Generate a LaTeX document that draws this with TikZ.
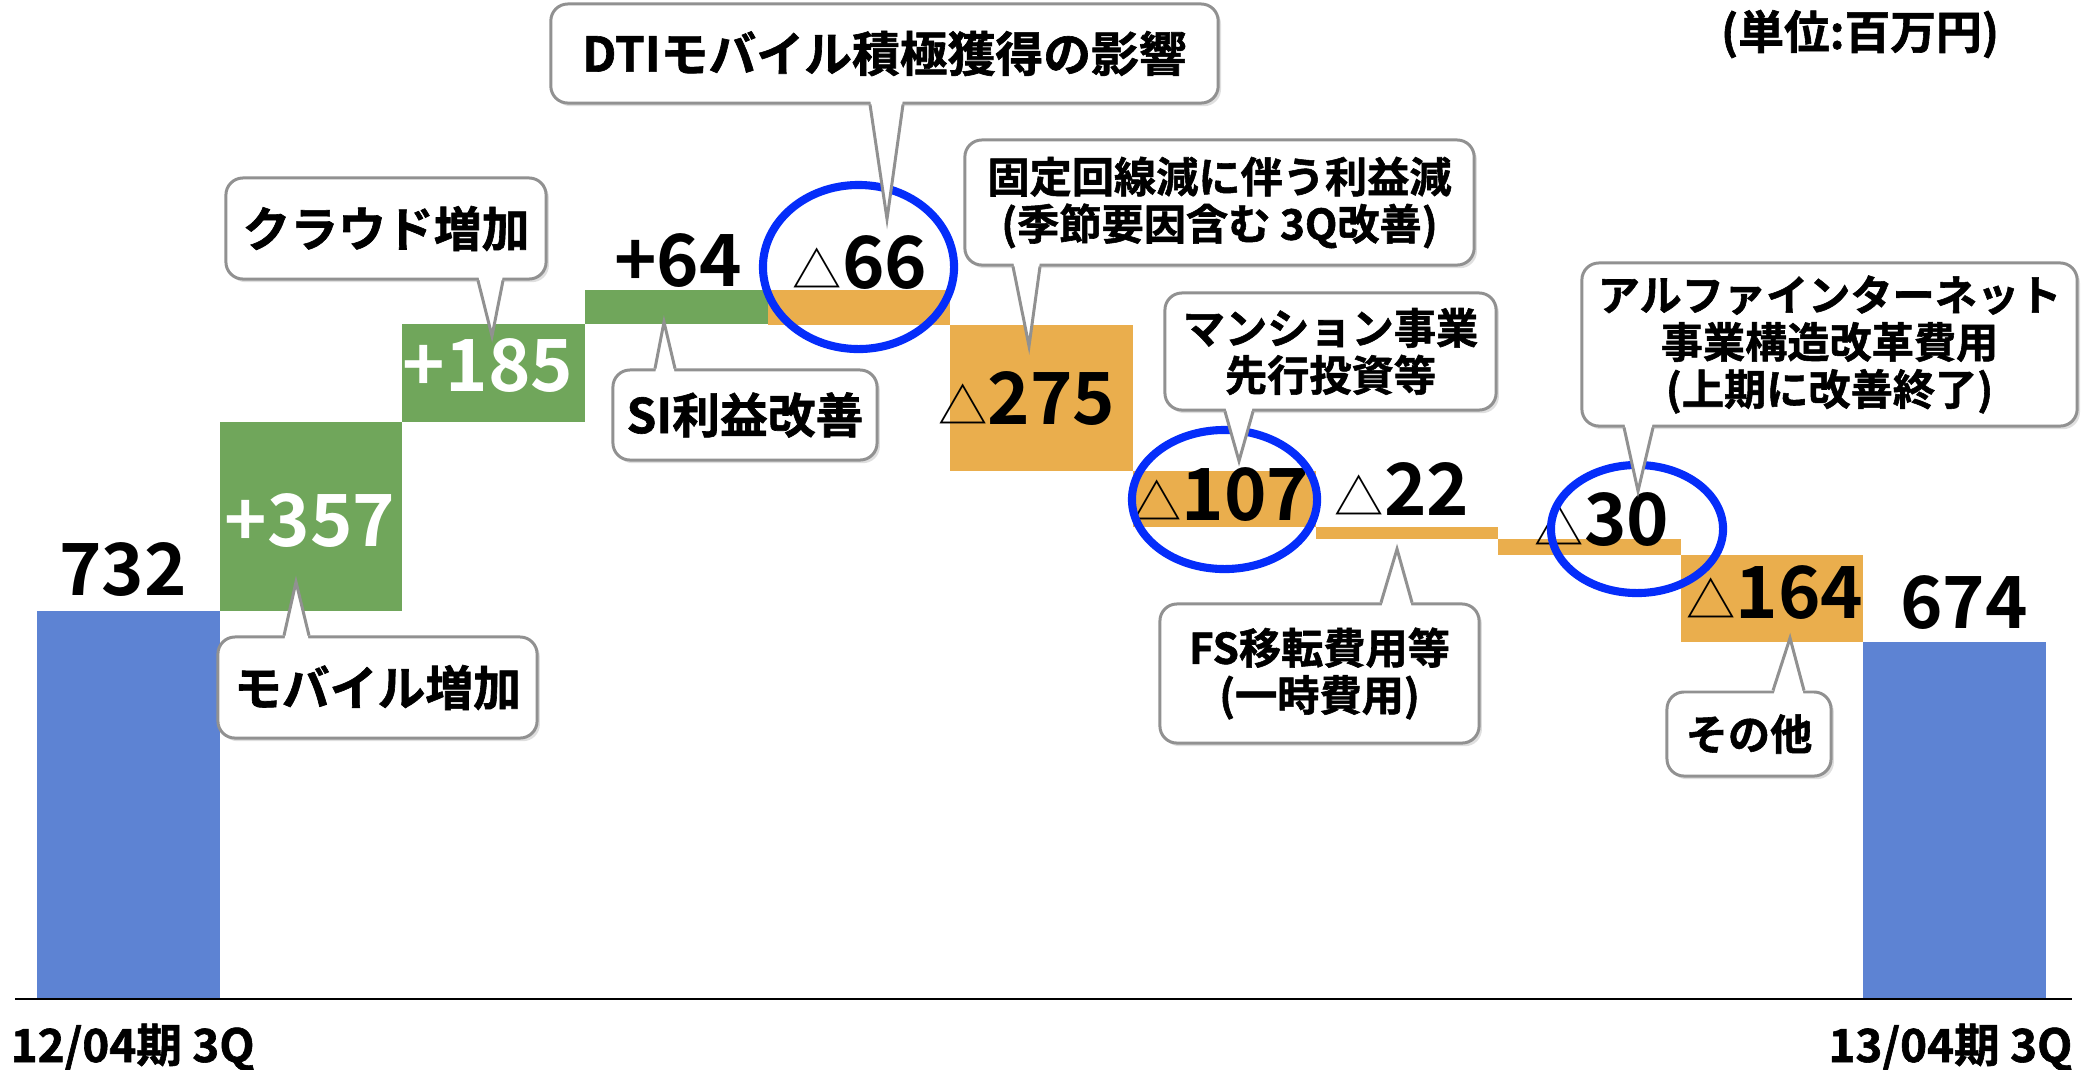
\documentclass[tikz,border=0pt]{standalone}
\usepackage{fontspec}
\setmainfont{Noto Sans CJK JP}[BoldFont=* Bold]
\newfontfamily\heavy{Noto Sans CJK JP}[UprightFont=* Bold, FakeBold=1.3]
\usetikzlibrary{shapes.geometric,shadows,calc}
\definecolor{bluebar}{RGB}{93,131,211}
\definecolor{greenbar}{RGB}{112,166,91}
\definecolor{orangebar}{RGB}{234,174,77}
\definecolor{ringblue}{RGB}{5,45,250}
\definecolor{cgray}{RGB}{145,145,145}
\tikzset{
  val/.style={font=\bfseries\fontsize{20.5pt}{24pt}\selectfont, inner sep=0pt, anchor=base},
  callbox/.style={draw=cgray, line width=0.85pt, fill=white, rounded corners=0.17cm,
    inner sep=0pt, align=center,
    drop shadow={opacity=0.25, shadow xshift=0.8pt, shadow yshift=-0.9pt}},
  bigcall/.style={callbox, font=\heavy\fontsize{13.6pt}{15pt}\selectfont},
  smallcall/.style={callbox, font=\heavy\fontsize{12pt}{13.4pt}\selectfont},
  ptrline/.style={draw=cgray, line width=0.85pt, line join=miter},
  ring/.style={ellipse, draw=ringblue, line width=2.3pt, inner sep=0pt},
  axislabel/.style={font=\heavy\fontsize{13pt}{15pt}\selectfont, inner sep=0pt},
}
\newcommand\tri{{\mdseries\fontsize{14pt}{14pt}\selectfont △}}
% pointer below a box: node, base x1, base x2, tip
\newcommand\ptrdown[4]{%
  \coordinate (#1-a) at (#2,0 |- #1.south);
  \coordinate (#1-b) at (#3,0 |- #1.south);
  \fill[white] ($(#1-a)+(0,-6)$) -- (#4) -- ($(#1-b)+(0,-6)$) -- cycle;
  \draw[ptrline] (#1-a) -- (#4) -- (#1-b);}
% pointer above a box
\newcommand\ptrup[4]{%
  \coordinate (#1-a) at (#2,0 |- #1.north);
  \coordinate (#1-b) at (#3,0 |- #1.north);
  \fill[white] ($(#1-a)+(0,6)$) -- (#4) -- ($(#1-b)+(0,6)$) -- cycle;
  \draw[ptrline] (#1-a) -- (#4) -- (#1-b);}
\begin{document}
\begin{tikzpicture}[x=0.01cm,y=-0.01cm]
\useasboundingbox (0,0) rectangle (2083,1069);
\fill[white] (0,0) rectangle (2083,1069);
% bars
\fill[bluebar] (37,611) rectangle (219.6,999);
\fill[greenbar] (219.6,421.8) rectangle (402.3,611);
\fill[greenbar] (402.3,323.8) rectangle (584.9,421.8);
\fill[greenbar] (584.9,289.9) rectangle (767.5,323.8);
\fill[orangebar] (767.5,289.9) rectangle (950.2,324.8);
\fill[orangebar] (950.2,324.8) rectangle (1132.8,470.6);
\fill[orangebar] (1132.8,470.6) rectangle (1315.5,527.3);
\fill[orangebar] (1315.5,527.3) rectangle (1498.1,539.0);
\fill[orangebar] (1498.1,539.0) rectangle (1680.7,554.9);
\fill[orangebar] (1680.7,554.9) rectangle (1863.4,641.8);
\fill[bluebar] (1863.4,641.8) rectangle (2046,999);
% axis
\draw[line width=0.75pt, black] (15,999) -- (2072,999);
% values
\node[val] (v732) at (123,595) {732};
\node[val, text=white] (v357) at (310,546) {+357};
\node[val, text=white] (v185) at (488,391) {+185};
\node[val] (v64) at (678,286) {+64};
\node[val] (v66) at (860,288) {\tri66};
\node[val] (v275) at (1027,424) {\tri275};
\node[val] (v107) at (1221,520) {\tri107};
\node[val] (v22) at (1402,515) {\tri22};
\node[val] (v30) at (1602,545) {\tri30};
\node[val] (v164) at (1775,618) {\tri164};
\node[val] (v674) at (1964,628) {674};
% rings
\node[ring, minimum width=1.91cm, minimum height=1.64cm] (r1) at (858.5,267) {};
\node[ring, minimum width=1.85cm, minimum height=1.39cm] (r2) at (1224.5,499.5) {};
\node[ring, minimum width=1.72cm, minimum height=1.28cm] (r3) at (1637,529) {};
% tips
\coordinate (t1) at (887,219);
\coordinate (t2) at (492,336);
\coordinate (t3) at (664,322);
\coordinate (t4) at (296,582);
\coordinate (t5) at (1029,346);
\coordinate (t6) at (1239,461);
\coordinate (t7) at (1638,491);
\coordinate (t8) at (1397,549);
\coordinate (t9) at (1790,638);
% callouts
\node[bigcall, minimum width=6.67cm, minimum height=0.99cm] (c1) at (884.5,53.5) {DTIモバイル積極獲得の影響};
\ptrdown{c1}{870}{903}{t1}
\node[bigcall, minimum width=3.20cm, minimum height=1.01cm] (c2) at (386,228.5) {クラウド増加};
\ptrdown{c2}{478}{503}{t2}
\node[bigcall, minimum width=2.64cm, minimum height=0.90cm] (c3) at (745,415) {SI利益改善};
\ptrup{c3}{655}{675}{t3}
\node[bigcall, minimum width=3.19cm, minimum height=1.01cm] (c4) at (377.5,687.5) {モバイル増加};
\ptrup{c4}{284}{309}{t4}
\node[smallcall, minimum width=5.09cm, minimum height=1.25cm] (c5) at (1219.5,202.5) {固定回線減に伴う利益減\\(季節要因含む 3Q改善)};
\ptrdown{c5}{1013}{1040}{t5}
\node[smallcall, minimum width=3.31cm, minimum height=1.17cm] (c6) at (1330.5,351.5) {マンション事業\\先行投資等};
\ptrdown{c6}{1225}{1253}{t6}
\node[smallcall, minimum width=4.95cm, minimum height=1.63cm] (c7) at (1829.5,344.5) {アルファインターネット\\事業構造改革費用\\(上期に改善終了)};
\ptrdown{c7}{1624}{1653}{t7}
\node[smallcall, minimum width=3.19cm, minimum height=1.39cm] (c8) at (1319.5,673.5) {FS移転費用等\\(一時費用)};
\ptrup{c8}{1381}{1412}{t8}
\node[smallcall, minimum width=1.64cm, minimum height=0.84cm] (c9) at (1749,734) {その他};
\ptrup{c9}{1773}{1804}{t9}
% labels
\node[axislabel, anchor=base west] (xl) at (10,1062) {12/04期 3Q};
\node[axislabel, anchor=base east] (xr) at (2073,1062) {13/04期 3Q};
\node[axislabel] (unit) at (1860,34) {(単位:百万円)};
\end{tikzpicture}
\end{document}
